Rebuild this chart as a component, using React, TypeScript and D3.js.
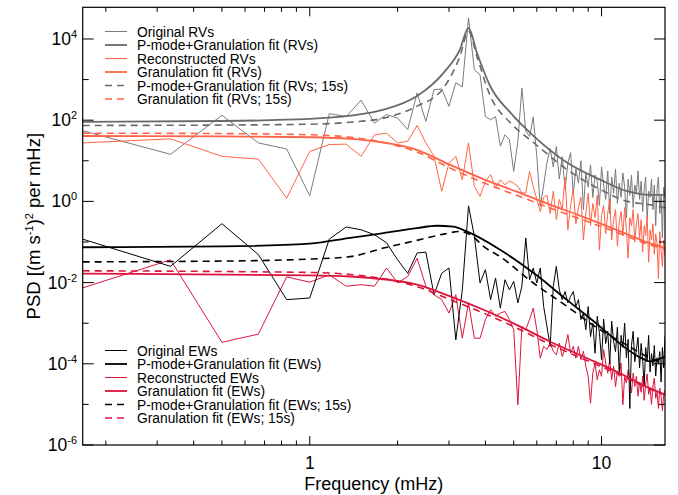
import React, { useEffect, useRef } from 'react';
import * as d3 from 'd3';

// frequency bins (mHz): spacing of 1/6 mHz, bins 1..99
const freqs = d3.range(1, 100).map(n => n / 6);

// measured spectra, log10 PSD per frequency bin
const rvOriginal = [
  1.74, 1.16, 2.12, 1.44, 1.29, 0.14, 2.16, 2.09, 2.49,
  1.93, 2.14, 2.05, 1.77, 2.67, 1.97, 2.75, 2.77, 2.34, 2.92, 2.82,
  4.52, 3.24, 3.12, 2.09, 2.01, 2.09, 1.36, 1.64, 1.52, 0.74, 1.48,
  2.79, 1.73, 1.60, 2.08, 1.11, -0.12, 0.40, 0.95, 1.30,
  0.85, 1.35, 0.55, 1.10, 0.30, 0.95, 1.20, 0.20, 0.80, 0.45, 1.00, -0.20, 0.70, 0.35, 0.90, 0.10, 0.65, 0.50, -0.10, 0.85,
  0.40, 0.05, 0.75, -0.30, 0.60, 0.20, 0.80, -0.05, 0.45, 0.10, 0.70, 0.35, -0.40, 0.55, 0.15, 0.65, -0.15, 0.40, 0.20, 0.75,
  0.05, 0.50, -0.25, 0.30, 0.60, -0.45, 0.25, 0.10, 0.55, -0.20, 0.40, -0.60, 0.30, 0.60, -0.30, 0.15, -0.90, 0.35, 0.10,
];
const rvRecon = [
  1.44, 1.54, 1.11, 1.04, 0.08, 1.23, 1.40, 1.41, 1.11,
  1.64, 1.68, 1.44, 1.48, 1.87, 1.44, 1.11, 0.25, 0.94, 1.11, 0.53,
  1.44, 0.37, 0.12, 0.50, 0.66, 0.33, 0.53, 0.41, 0.50, 0.45, 0.37,
  0.21, 0.21, 0.74, 0.37, 0.05, -0.25, 0.10, 0.15, -0.30,
  0.25, -0.45, 0.05, -0.20, 0.60, -0.70, -0.10, 0.30, -0.55, -0.15, 0.10, -0.95, -0.30, 0.20, -0.60, -0.05, -0.40, 0.15, -1.20, -0.35,
  -0.10, -0.80, -0.30, 0.05, -0.95, -0.45, -0.20, -1.10, -0.50, -0.25, -0.85, -0.15, -0.70, -1.40, -0.40, -0.60, -0.20, -1.00, -0.55, -0.30,
  -0.90, -0.45, -1.25, -0.60, -0.85, -0.35, -1.50, -0.70, -0.95, -0.55, -1.30, -0.80, -1.05, -1.90, -0.75, -1.20, -1.60, -0.95, -1.35,
];
const ewOriginal = [
  -0.93, -1.60, -0.55, -1.31, -2.42, -2.38, -0.93, -0.63, -0.70,
  -0.82, -1.02, -1.44, -1.77, -1.27, -1.25, -2.30, -1.77, -1.64, -3.41, -2.18,
  -0.11, -0.86, -2.01, -1.68, -2.42, -1.89, -2.63, -1.93, -2.18, -1.97, -2.50,
  -2.09, -0.90, -1.93, -1.64, -2.01, -1.64, -2.59, -3.08, -3.57,
  -2.09, -1.60, -2.18, -2.42, -2.22, -2.50, -2.34, -2.22, -2.59, -2.42,
  -2.91, -2.75, -3.16, -2.59, -3.33, -3.00, -3.74, -2.83, -3.24, -3.90,
  -2.90, -3.50, -3.20, -4.00, -2.95, -3.45, -3.70, -3.10, -4.25, -3.30, -3.60, -3.00, -3.85, -3.40, -5.10, -3.55, -3.20, -3.95, -3.65, -3.35,
  -4.10, -3.50, -3.90, -4.55, -3.60, -3.95, -3.30, -4.20, -3.75, -4.05, -3.55, -4.30, -3.85, -4.00, -3.70, -4.45, -3.60, -4.10, -3.30,
];
const ewRecon = [
  -2.13, -1.44, -3.47, -3.27, -1.86, -1.99, -1.81, -2.09, -2.05,
  -2.09, -1.64, -2.01, -1.85, -1.40, -2.09, -2.30, -2.42, -2.75, -2.30, -3.37,
  -2.50, -3.37, -3.37, -2.91, -2.67, -2.83, -2.75, -2.71, -2.91, -3.16, -5.01,
  -3.08, -3.16, -2.91, -2.63, -3.16, -3.86, -3.57, -3.65, -3.49,
  -3.69, -3.78, -3.49, -3.82, -3.61, -3.28, -3.74, -3.57, -3.86, -3.57, -3.90, -3.69, -4.06, -4.31, -4.97, -4.23, -3.98, -4.39, -4.15, -4.31,
  -3.65, -3.98, -4.23, -3.90, -4.39, -4.06, -4.56, -4.19, -4.31, -3.98, -5.01, -4.31, -4.47, -4.15, -4.39, -4.72, -4.23, -4.56, -4.31, -4.80,
  -4.45, -4.70, -4.30, -4.90, -4.50, -4.25, -4.75, -4.60, -5.00, -4.55, -4.35, -4.85, -4.70, -5.10, -4.60, -4.80, -5.15, -4.75, -4.65,
];

// fitted models, read as [freq mHz, log10 PSD]
const rvPmodeFit = [[0.1667, 1.96], [0.5, 1.98], [1.0, 2.03], [1.376, 2.11], [1.789, 2.26], [2.326, 2.59], [2.87, 3.16], [3.27, 3.74], [3.5, 4.27], [3.74, 3.66], [4.16, 2.83], [4.88, 2.18], [5.87, 1.60], [7.63, 0.95], [9.92, 0.53], [12.25, 0.25], [14.63, 0.16], [16.5, 0.16]];
const rvPmodeFit15 = [[0.1667, 1.87], [0.5, 1.88], [1.0, 1.90], [1.376, 1.95], [1.789, 2.05], [2.326, 2.34], [2.87, 2.79], [3.27, 3.57], [3.5, 4.19], [3.74, 3.57], [4.16, 2.59], [4.88, 1.93], [5.87, 1.44], [7.63, 0.78], [9.92, 0.29], [12.25, 0.0], [14.63, -0.08], [16.5, -0.16]];
const rvGranFit = [[0.1667, 1.61], [0.5, 1.60], [1.0, 1.58], [1.376, 1.54], [1.789, 1.45], [2.326, 1.27], [3.026, 0.90], [3.935, 0.55], [5.117, 0.24], [6.654, -0.08], [8.65, -0.38], [11.25, -0.70], [14.63, -1.03], [16.5, -1.15]];
const rvGranFit15 = [[0.1667, 1.68], [0.5, 1.67], [1.0, 1.64], [1.376, 1.58], [1.789, 1.45], [2.326, 1.22], [3.026, 0.82], [3.935, 0.46], [5.117, 0.15], [6.654, -0.16], [8.65, -0.46], [11.25, -0.76], [14.63, -1.07], [16.5, -1.17]];
const ewPmodeFit = [[0.1667, -1.13], [0.5, -1.11], [1.0, -1.04], [1.376, -0.90], [1.79, -0.78], [2.33, -0.66], [2.72, -0.60], [3.1, -0.62], [3.45, -0.74], [4.49, -1.19], [5.84, -1.76], [7.59, -2.42], [9.87, -3.08], [11.87, -3.57], [13.86, -3.88], [14.6, -3.94], [16.5, -3.82]];
const ewPmodeFit15 = [[0.1667, -1.49], [0.5, -1.47], [1.0, -1.42], [1.376, -1.36], [1.79, -1.15], [2.33, -0.96], [2.9, -0.80], [3.27, -0.74], [3.6, -0.85], [3.94, -1.11], [4.49, -1.36], [5.84, -2.01], [7.59, -2.58], [9.87, -3.16], [11.87, -3.49], [14.6, -3.85], [16.5, -4.0]];
const ewGranFit = [[0.1667, -1.78], [1.0, -1.82], [1.376, -1.85], [2.33, -2.05], [3.03, -2.34], [3.94, -2.67], [5.12, -3.04], [6.65, -3.45], [8.65, -3.82], [11.25, -4.19], [14.63, -4.60], [16.5, -4.76]];
const ewGranFit15 = [[0.1667, -1.71], [1.0, -1.75], [1.376, -1.80], [2.33, -2.10], [3.03, -2.42], [3.94, -2.75], [5.12, -3.12], [6.65, -3.52], [8.65, -3.88], [11.25, -4.23], [14.63, -4.62], [16.5, -4.76]];

const rvLabels = ['Original RVs', 'P-mode+Granulation fit (RVs)', 'Reconstructed RVs', 'Granulation fit (RVs)', 'P-mode+Granulation fit (RVs; 15s)', 'Granulation fit (RVs; 15s)'];
const ewLabels = ['Original EWs', 'P-mode+Granulation fit (EWs)', 'Reconstructed EWs', 'Granulation fit (EWs)', 'P-mode+Granulation fit (EWs; 15s)', 'Granulation fit (EWs; 15s)'];
const xTickLabels = [1, 10];
const yTickExps = [-6, -4, -2, 0, 2, 4];

const GREY = '#7a7a7a', GREY_FIT = '#6a6a6a', TOMATO = '#ff6347', BLACK = '#000', CRIMSON = '#dc143c';
const FONT = '"Liberation Sans", Arial, Helvetica, sans-serif';

const App = () => {
  const ref = useRef(null);

  useEffect(() => {
    const svg = d3.select(ref.current);
    svg.selectAll('*').remove();

    const left = 82.7, right = 665, top = 7.3, bottom = 445;
    const x = d3.scaleLog().domain([1 / 6, 16.5]).range([left, right]);
    const y = d3.scaleLog().domain([1e-6, Math.pow(10, 4.78)]).range([bottom, top]);

    svg.append('clipPath').attr('id', 'plotclip')
      .append('rect').attr('x', left).attr('y', top).attr('width', right - left).attr('height', bottom - top);

    const line = d3.line().x(d => x(d[0])).y(d => y(Math.pow(10, d[1])));
    const smooth = d3.line().x(d => x(d[0])).y(d => y(Math.pow(10, d[1]))).curve(d3.curveMonotoneX);
    const spectrum = vals => vals.map((v, i) => [freqs[i], v]);

    const plot = svg.append('g').attr('clip-path', 'url(#plotclip)');

    const series = [
      { d: line(spectrum(rvOriginal)), c: GREY, w: 1, dash: null },
      { d: line(spectrum(rvRecon)), c: TOMATO, w: 1, dash: null },
      { d: line(spectrum(ewRecon)), c: CRIMSON, w: 1, dash: null },
      { d: line(spectrum(ewOriginal)), c: BLACK, w: 1, dash: null },
      { d: smooth(rvPmodeFit), c: GREY_FIT, w: 1.8, dash: null },
      { d: smooth(rvPmodeFit15), c: GREY_FIT, w: 1.6, dash: '7,5' },
      { d: smooth(rvGranFit), c: TOMATO, w: 1.8, dash: null },
      { d: smooth(rvGranFit15), c: TOMATO, w: 1.6, dash: '7,5' },
      { d: smooth(ewPmodeFit), c: BLACK, w: 1.8, dash: null },
      { d: smooth(ewPmodeFit15), c: BLACK, w: 1.6, dash: '7,5' },
      { d: smooth(ewGranFit), c: CRIMSON, w: 1.8, dash: null },
      { d: smooth(ewGranFit15), c: CRIMSON, w: 1.6, dash: '7,5' },
    ];
    plot.selectAll('path')
      .data(series)
      .join('path')
        .attr('d', s => s.d)
        .attr('fill', 'none')
        .attr('stroke', s => s.c)
        .attr('stroke-width', s => s.w)
        .attr('stroke-dasharray', s => s.dash)
        .attr('stroke-linejoin', 'round');

    // frame
    svg.append('rect')
      .attr('x', left).attr('y', top).attr('width', right - left).attr('height', bottom - top)
      .attr('fill', 'none').attr('stroke', '#000').attr('stroke-width', 1.2);

    // x ticks (top and bottom, inward)
    const xMinor = [0.2, 0.3, 0.4, 0.5, 0.6, 0.7, 0.8, 0.9, 2, 3, 4, 5, 6, 7, 8, 9];
    const ax = svg.append('g').attr('stroke', '#000').attr('stroke-width', 1);
    xMinor.concat(xTickLabels).forEach(v => {
      const len = xTickLabels.includes(v) ? 9 : 4.5;
      ax.append('line').attr('x1', x(v)).attr('x2', x(v)).attr('y1', bottom).attr('y2', bottom - len);
      ax.append('line').attr('x1', x(v)).attr('x2', x(v)).attr('y1', top).attr('y2', top + len);
    });
    // y ticks (left and right, inward)
    d3.range(-6, 5).forEach(e => {
      const len = e % 2 === 0 ? 11 : 6;
      const yy = y(Math.pow(10, e));
      ax.append('line').attr('x1', left).attr('x2', left + len).attr('y1', yy).attr('y2', yy);
      ax.append('line').attr('x1', right).attr('x2', right - len).attr('y1', yy).attr('y2', yy);
    });

    const txt = svg.append('g').attr('font-family', FONT).attr('fill', '#000');
    xTickLabels.forEach(v => {
      txt.append('text').attr('x', x(v)).attr('y', 468.5).attr('text-anchor', 'middle')
        .attr('font-size', 17.5).text(v);
    });
    yTickExps.forEach(e => {
      const t = txt.append('text').attr('x', 77).attr('y', y(Math.pow(10, e)) + 6)
        .attr('text-anchor', 'end').attr('font-size', 17.5);
      t.append('tspan').text('10');
      t.append('tspan').attr('font-size', 11).attr('dy', -7).text(e);
    });

    txt.append('text').attr('x', (left + right) / 2).attr('y', 489.5).attr('text-anchor', 'middle')
      .attr('font-size', 18).text('Frequency (mHz)');

    const yl = txt.append('text').attr('transform', `translate(40,${(top + bottom) / 2}) rotate(-90)`)
      .attr('text-anchor', 'middle').attr('font-size', 18.5);
    yl.append('tspan').text('PSD [(m s');
    yl.append('tspan').attr('font-size', 11).attr('dy', -7).text('-1');
    yl.append('tspan').attr('dy', 7).text(')');
    yl.append('tspan').attr('font-size', 11).attr('dy', -7).text('2');
    yl.append('tspan').attr('dy', 7).text(' per mHz]');

    // legends
    const legendStyles = [
      { c: GREY, w: 1, dash: null },
      { c: GREY_FIT, w: 1.8, dash: null },
      { c: TOMATO, w: 1, dash: null },
      { c: TOMATO, w: 1.8, dash: null },
      { c: GREY_FIT, w: 1.6, dash: '7,5' },
      { c: TOMATO, w: 1.6, dash: '7,5' },
    ];
    const ewStyles = [
      { c: BLACK, w: 1, dash: null },
      { c: BLACK, w: 1.8, dash: null },
      { c: CRIMSON, w: 1, dash: null },
      { c: CRIMSON, w: 1.8, dash: null },
      { c: BLACK, w: 1.6, dash: '7,5' },
      { c: CRIMSON, w: 1.6, dash: '7,5' },
    ];
    const drawLegend = (labels, styles, y0) => {
      const g = svg.append('g');
      labels.forEach((lab, i) => {
        const yy = y0 + i * 13.5;
        const s = styles[i];
        g.append('line').attr('x1', 105).attr('x2', 127).attr('y1', yy).attr('y2', yy)
          .attr('stroke', s.c).attr('stroke-width', s.w).attr('stroke-dasharray', s.dash);
        g.append('text').attr('x', 137).attr('y', yy + 5).attr('font-family', FONT)
          .attr('font-size', 13.8).attr('fill', '#000').text(lab);
      });
    };
    drawLegend(rvLabels, legendStyles, 31.5);
    drawLegend(ewLabels, ewStyles, 350.5);
  }, []);

  return (
    <div style={{ position: 'absolute', left: 0, top: 0 }}>
      <svg ref={ref} width={678} height={495} style={{ display: 'block', background: '#fff' }}></svg>
    </div>
  );
};

export default App;
